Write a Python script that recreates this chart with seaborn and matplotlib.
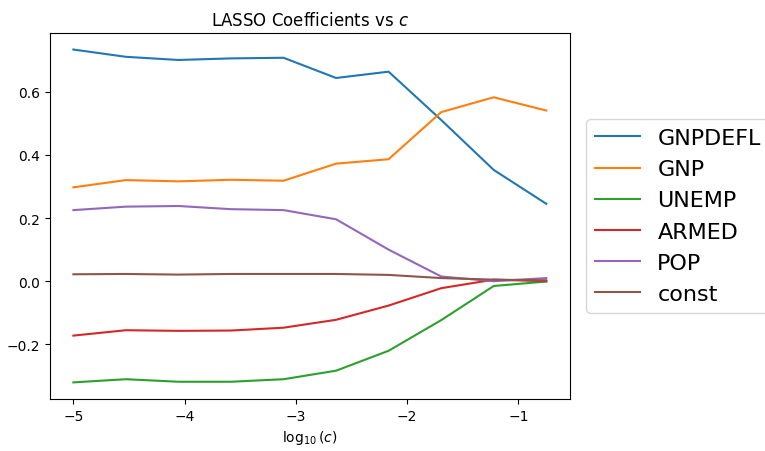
import numpy as np
import pandas as pd
import matplotlib
matplotlib.use("Agg")
import matplotlib.pyplot as plt
import seaborn as sns

log_c = [-5.0, -4.528, -4.056, -3.583, -3.111, -2.639, -2.167, -1.694, -1.222, -0.75]
gnpdefl = [0.733, 0.710, 0.700, 0.705, 0.707, 0.643, 0.663, 0.510, 0.352, 0.245]
gnp = [0.297, 0.320, 0.316, 0.321, 0.318, 0.372, 0.386, 0.535, 0.582, 0.540]
unemp = [-0.320, -0.310, -0.318, -0.318, -0.310, -0.283, -0.220, -0.123, -0.015, -0.001]
armed = [-0.172, -0.155, -0.157, -0.156, -0.147, -0.122, -0.077, -0.022, 0.005, 0.000]
pop = [0.225, 0.236, 0.238, 0.228, 0.225, 0.196, 0.100, 0.015, 0.000, 0.010]
const = [0.022, 0.023, 0.021, 0.023, 0.023, 0.023, 0.020, 0.010, 0.005, 0.003]
names = ["GNPDEFL", "GNP", "UNEMP", "ARMED", "POP", "const"]

series = [gnpdefl, gnp, unemp, armed, pop, const]
df = pd.DataFrame({"x": np.tile(log_c, len(names)),
                   "coef": np.concatenate(series),
                   "var": np.repeat(names, len(log_c))})

fig, ax = plt.subplots(figsize=(7.65, 4.52), dpi=100)
sns.lineplot(data=df, x="x", y="coef", hue="var", hue_order=names,
             palette=sns.color_palette("tab10", 6), ax=ax)
ax.set_title("LASSO Coefficients vs $c$")
ax.set_xlabel(r"$\log_{10}(c)$")
ax.set_ylabel("")
ax.legend(loc="center left", bbox_to_anchor=(1.01, 0.5), fontsize=16)
fig.subplots_adjust(left=0.065, right=0.745, top=0.925, bottom=0.115)
fig.savefig("out.png", dpi=100)
